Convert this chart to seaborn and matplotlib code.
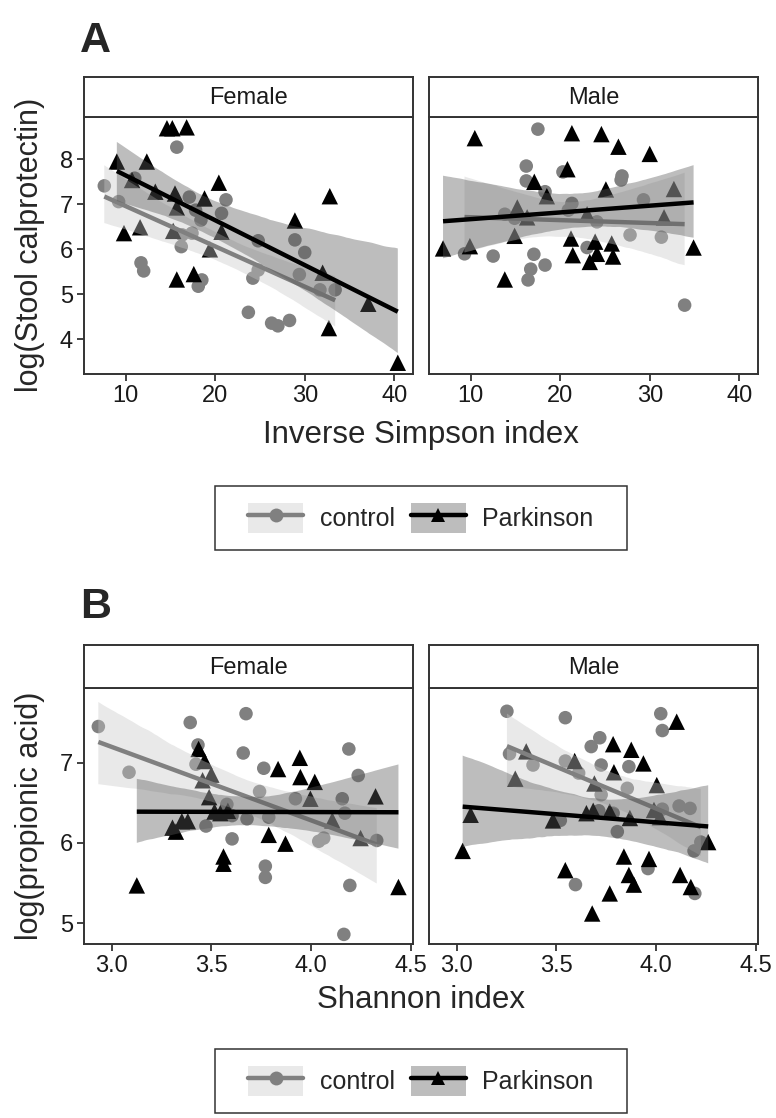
import matplotlib
matplotlib.use('Agg')
import matplotlib.pyplot as plt
import seaborn as sns
import pandas as pd
from matplotlib.lines import Line2D
from matplotlib.patches import Patch, Rectangle
from matplotlib.legend_handler import HandlerTuple

# --- Panel A: Inverse Simpson index vs log(Stool calprotectin) ---
a_female_ctrl_x = [15.7, 7.6, 9.2, 11.0, 17.1, 21.2, 20.7, 18.4, 17.8, 16.3, 17.4, 16.2, 11.7, 12.0,
                   18.5, 18.1, 24.8, 28.9, 30.0, 24.8, 24.2, 29.4, 31.7, 33.4, 23.7, 26.3, 27.0, 28.3]
a_female_ctrl_y = [8.27, 7.41, 7.06, 7.58, 7.16, 7.10, 6.80, 6.65, 6.87, 6.32, 6.36, 6.06, 5.70, 5.52,
                   5.32, 5.18, 6.19, 6.21, 5.93, 5.54, 5.36, 5.44, 5.10, 5.10, 4.60, 4.36, 4.30, 4.42]
a_female_pd_x = [14.6, 15.2, 16.8, 9.0, 12.35, 10.7, 13.3, 15.5, 15.7, 18.8, 20.4, 9.8, 11.6, 15.3,
                 20.7, 19.4, 15.7, 17.6, 28.9, 32.8, 32.0, 32.7, 37.1, 40.4]
a_female_pd_y = [8.69, 8.69, 8.71, 7.95, 7.95, 7.54, 7.28, 7.24, 6.93, 7.13, 7.48, 6.36, 6.49, 6.41,
                 6.39, 6.00, 5.33, 5.45, 6.64, 7.18, 5.48, 4.25, 4.79, 3.48]
a_male_ctrl_x = [17.5, 16.2, 16.2, 18.3, 20.3, 26.9, 26.8, 21.3, 20.9, 29.3, 13.8, 14.9, 24.1, 27.8,
                 31.3, 9.3, 12.5, 17.05, 18.3, 16.7, 16.4, 23.0, 33.9]
a_male_ctrl_y = [8.67, 7.85, 7.52, 7.28, 7.72, 7.63, 7.54, 7.02, 6.87, 7.10, 6.78, 6.69, 6.61, 6.32,
                 6.27, 5.90, 5.85, 5.89, 5.65, 5.56, 5.32, 6.04, 4.76]
a_male_pd_x = [10.45, 21.3, 24.6, 26.5, 30.0, 20.8, 17.1, 18.5, 25.1, 32.7, 15.2, 16.3, 23.0, 31.6,
               6.9, 9.9, 14.9, 21.2, 23.9, 25.75, 21.4, 24.1, 23.3, 25.9, 13.8, 34.9]
a_male_pd_y = [8.47, 8.58, 8.56, 8.28, 8.12, 7.78, 7.50, 7.18, 7.33, 7.34, 6.93, 6.71, 6.78, 6.71,
               6.02, 6.07, 6.30, 6.24, 6.17, 6.13, 5.87, 5.90, 5.72, 5.84, 5.33, 6.04]

# --- Panel B: Shannon index vs log(propionic acid) ---
b_female_ctrl_x = [2.933, 3.087, 3.394, 3.433, 3.423, 3.674, 3.66, 3.763, 3.742, 3.578, 3.604, 3.679,
                   3.788, 3.473, 3.604, 3.771, 3.771, 3.922, 4.19, 4.237, 4.157, 4.17, 4.039, 4.064,
                   4.33, 4.195, 4.165]
b_female_ctrl_y = [7.45, 6.88, 7.50, 7.22, 6.98, 7.61, 7.12, 6.93, 6.64, 6.48, 6.34, 6.30,
                   6.32, 6.21, 6.05, 5.71, 5.57, 6.55, 7.17, 6.84, 6.55, 6.37, 6.02, 6.06,
                   6.03, 5.47, 4.86]
b_female_pd_x = [3.126, 3.436, 3.466, 3.50, 3.456, 3.489, 3.516, 3.545, 3.583, 3.305, 3.352, 3.382,
                 3.322, 3.561, 3.561, 3.835, 3.944, 3.947, 4.019, 3.997, 3.788, 3.872, 4.107, 4.249,
                 4.324, 4.439]
b_female_pd_y = [5.47, 7.17, 7.02, 6.85, 6.78, 6.57, 6.39, 6.37, 6.40, 6.19, 6.27, 6.27,
                 6.14, 5.83, 5.74, 6.92, 7.06, 6.82, 6.76, 6.55, 6.10, 5.99, 6.28, 6.06,
                 6.58, 5.45]
b_male_ctrl_x = [3.252, 3.545, 3.265, 3.383, 3.718, 3.675, 3.545, 3.725, 3.612, 3.864, 3.856, 3.725,
                 3.713, 3.785, 3.52, 3.806, 4.024, 4.032, 4.032, 4.116, 4.171, 4.225, 4.191, 3.96,
                 3.596, 4.195]
b_male_ctrl_y = [7.64, 7.56, 7.11, 6.97, 7.31, 7.20, 7.02, 6.97, 6.87, 6.95, 6.68, 6.60,
                 6.40, 6.37, 6.28, 6.14, 7.61, 7.40, 6.42, 6.46, 6.43, 6.01, 5.90, 5.68,
                 5.48, 5.37]
b_male_pd_x = [3.03, 3.07, 3.294, 3.349, 3.483, 3.592, 3.785, 3.876, 3.937, 3.789, 3.691, 4.004,
               4.104, 3.651, 3.685, 3.768, 3.869, 3.99, 4.02, 4.262, 3.545, 3.839, 3.965, 3.864,
               3.889, 4.121, 4.175, 3.768, 3.68]
b_male_pd_y = [5.90, 6.35, 6.80, 7.14, 6.28, 7.02, 7.23, 7.16, 6.99, 6.88, 6.74, 6.72,
               7.51, 6.37, 6.40, 6.39, 6.31, 6.41, 6.32, 6.01, 5.66, 5.83, 5.80, 5.60,
               5.48, 5.60, 5.45, 5.37, 5.12]

sexes = ['Female', 'Male']
groups = ['control', 'Parkinson']


def long_df(series):
    # series: {(sex, group): (x, y)}
    rows = []
    for (sex, grp), (xs, ys) in series.items():
        for xv, yv in zip(xs, ys):
            rows.append({'sex': sex, 'group': grp, 'x': xv, 'y': yv})
    return pd.DataFrame(rows)


df_a = long_df({
    ('Female', 'control'): (a_female_ctrl_x, a_female_ctrl_y),
    ('Female', 'Parkinson'): (a_female_pd_x, a_female_pd_y),
    ('Male', 'control'): (a_male_ctrl_x, a_male_ctrl_y),
    ('Male', 'Parkinson'): (a_male_pd_x, a_male_pd_y),
})
df_b = long_df({
    ('Female', 'control'): (b_female_ctrl_x, b_female_ctrl_y),
    ('Female', 'Parkinson'): (b_female_pd_x, b_female_pd_y),
    ('Male', 'control'): (b_male_ctrl_x, b_male_ctrl_y),
    ('Male', 'Parkinson'): (b_male_pd_x, b_male_pd_y),
})

sns.set_style('white')
plt.rcParams['font.family'] = ['Liberation Sans', 'DejaVu Sans']

STYLE = {
    'control': dict(color='#808080', marker='o', s=95, fill='#c8c8c8', falpha=0.4, z=3),
    'Parkinson': dict(color='black', marker='^', s=140, fill='#5a5a5a', falpha=0.4, z=5),
}
BORDER = '#333333'
W, H = 776, 1118

fig = plt.figure(figsize=(W / 100, H / 100), dpi=100)


def fx(px):
    return px / W


def fy(py):
    return 1 - py / H


def draw_block(df, body_top, body_bot, strip_top, xlim, ylim, xticks, yticks, xticklabels):
    lefts = [84, 429]
    width = 329
    axes = []
    for i, sex in enumerate(sexes):
        ax = fig.add_axes([fx(lefts[i]), fy(body_bot), width / W, (body_bot - body_top) / H])
        sub = df[df['sex'] == sex]
        for grp in groups:
            st = STYLE[grp]
            d = sub[sub['group'] == grp]
            sns.scatterplot(data=d, x='x', y='y', marker=st['marker'], color=st['color'],
                            s=st['s'], edgecolor='none', linewidth=0, ax=ax, zorder=2, legend=False)
        for grp in groups:
            st = STYLE[grp]
            d = sub[sub['group'] == grp]
            n_before = len(ax.collections)
            sns.regplot(data=d, x='x', y='y', scatter=False, ax=ax, color=st['color'],
                        truncate=True, seed=7, n_boot=2000,
                        line_kws=dict(lw=3.2, zorder=st['z'] + 1, solid_capstyle='butt'))
            for coll in ax.collections[n_before:]:
                coll.set_facecolor(st['fill'])
                coll.set_alpha(st['falpha'])
                coll.set_edgecolor('none')
                coll.set_zorder(st['z'])
        ax.set_xlim(*xlim)
        ax.set_ylim(*ylim)
        ax.set_xticks(xticks)
        ax.set_xticklabels(xticklabels)
        ax.set_yticks(yticks if i == 0 else [])
        ax.set_xlabel('')
        ax.set_ylabel('')
        ax.tick_params(direction='out', length=5, width=1.3, color=BORDER,
                       labelsize=17, labelcolor='#1a1a1a', pad=3,
                       left=(i == 0), bottom=True)
        for sp in ax.spines.values():
            sp.set_color(BORDER)
            sp.set_linewidth(1.4)
        # facet strip
        sax = fig.add_axes([fx(lefts[i]), fy(body_top), width / W, (body_top - strip_top) / H])
        sax.set_xticks([])
        sax.set_yticks([])
        for sp in sax.spines.values():
            sp.set_color(BORDER)
            sp.set_linewidth(1.4)
        sax.text(0.5, 0.47, sex, ha='center', va='center', fontsize=17, color='#1a1a1a',
                 transform=sax.transAxes)
        axes.append(ax)
    return axes


draw_block(df_a, 117, 374, 77, (5.33, 42.1), (3.23, 8.94), [10, 20, 30, 40], [4, 5, 6, 7, 8],
           ['10', '20', '30', '40'])
draw_block(df_b, 688, 944, 645, (2.861, 4.512), (4.74, 7.93), [3.0, 3.5, 4.0, 4.5], [5, 6, 7],
           ['3.0', '3.5', '4.0', '4.5'])

# panel letters
fig.text(fx(80), fy(52), 'A', fontsize=31, fontweight='bold', va='baseline', ha='left')
fig.text(fx(80), fy(618), 'B', fontsize=31, fontweight='bold', va='baseline', ha='left')

# axis titles
fig.text(fx(421), fy(435), 'Inverse Simpson index', fontsize=22.5, ha='center', va='center')
fig.text(fx(30), fy(245), 'log(Stool calprotectin)', fontsize=22, ha='center', va='center',
         rotation=90)
fig.text(fx(421), fy(1000), 'Shannon index', fontsize=22.5, ha='center', va='center')
fig.text(fx(30), fy(816), 'log(propionic acid)', fontsize=22, ha='center', va='center',
         rotation=90)

# legends: shaded key with line + marker on top, framed box
handles = []
for grp in groups:
    st = STYLE[grp]
    patch = Patch(facecolor=st['fill'], alpha=st['falpha'], edgecolor='none')
    line = Line2D([], [], color=st['color'], lw=3.2, marker=st['marker'], markersize=10,
                  markeredgewidth=0)
    handles.append((patch, line))

legends = []
for cy in (518, 1081):
    leg = fig.legend(handles, groups, loc='center', bbox_to_anchor=(fx(421), fy(cy)), ncol=2,
                     frameon=False, fontsize=18, handlelength=2.2, handleheight=1.45,
                     handletextpad=0.65, columnspacing=0.65, borderpad=0, borderaxespad=0,
                     handler_map={tuple: HandlerTuple(ndivide=1)})
    legends.append(leg)

fig.canvas.draw()
renderer = fig.canvas.get_renderer()
for leg in legends:
    bb = leg.get_window_extent(renderer)
    x0, y0 = bb.x0 - 33, bb.y0 - 17
    rect = Rectangle((x0 / W, y0 / H), (bb.width + 66) / W, (bb.height + 34) / H,
                     transform=fig.transFigure, facecolor='none', edgecolor=BORDER, lw=1.1)
    fig.patches.append(rect)

fig.savefig('out.png', dpi=100)
